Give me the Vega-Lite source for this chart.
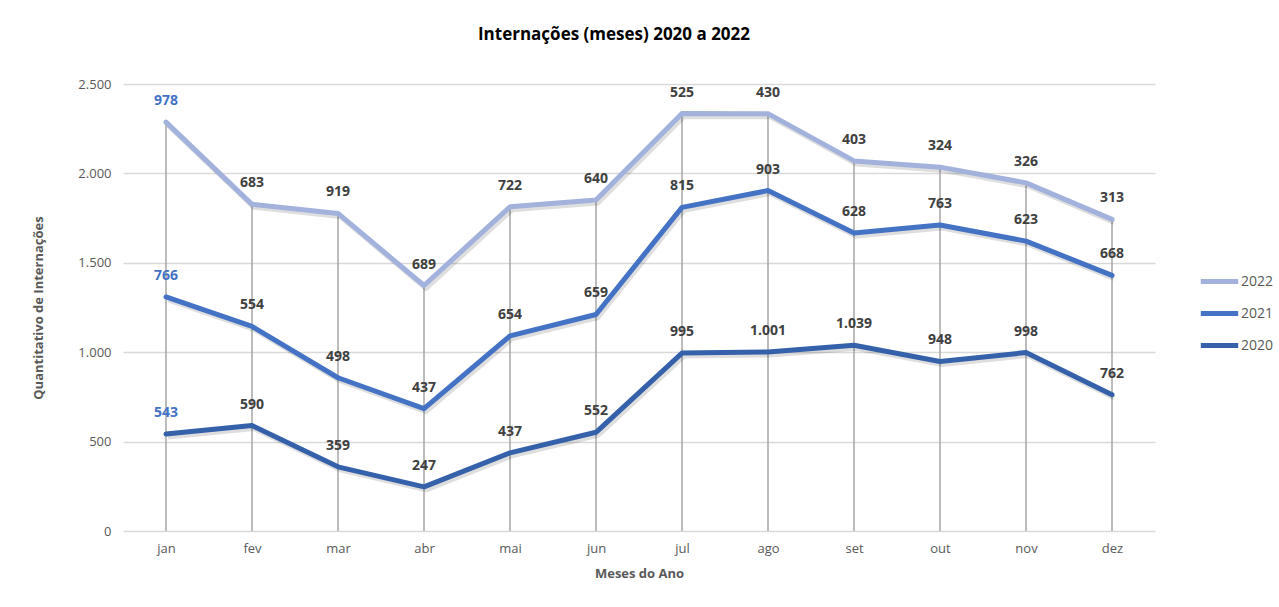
{
  "$schema": "https://vega.github.io/schema/vega-lite/v6.json",
  "width": 1032,
  "height": 447,
  "autosize": {"type": "none"},
  "padding": {"left": 123, "top": 84, "right": 124, "bottom": 76},
  "background": "white",
  "config": {
    "locale": {"number": {"decimal": ",", "thousands": ".", "grouping": [3], "currency": ["R$", ""]}},
    "view": {"stroke": null},
    "font": "Liberation Sans"
  },
  "title": {
    "text": "Internações (meses) 2020 a 2022",
    "font": "Open Sans",
    "fontSize": 17,
    "fontWeight": "bold",
    "color": "#000000",
    "anchor": "middle",
    "dx": -25,
    "offset": 34
  },
  "data": {
    "values": [
      {"month": "jan", "year": "2020", "value": 543},
      {"month": "fev", "year": "2020", "value": 590},
      {"month": "mar", "year": "2020", "value": 359},
      {"month": "abr", "year": "2020", "value": 247},
      {"month": "mai", "year": "2020", "value": 437},
      {"month": "jun", "year": "2020", "value": 552},
      {"month": "jul", "year": "2020", "value": 995},
      {"month": "ago", "year": "2020", "value": 1001},
      {"month": "set", "year": "2020", "value": 1039},
      {"month": "out", "year": "2020", "value": 948},
      {"month": "nov", "year": "2020", "value": 998},
      {"month": "dez", "year": "2020", "value": 762},
      {"month": "jan", "year": "2021", "value": 766},
      {"month": "fev", "year": "2021", "value": 554},
      {"month": "mar", "year": "2021", "value": 498},
      {"month": "abr", "year": "2021", "value": 437},
      {"month": "mai", "year": "2021", "value": 654},
      {"month": "jun", "year": "2021", "value": 659},
      {"month": "jul", "year": "2021", "value": 815},
      {"month": "ago", "year": "2021", "value": 903},
      {"month": "set", "year": "2021", "value": 628},
      {"month": "out", "year": "2021", "value": 763},
      {"month": "nov", "year": "2021", "value": 623},
      {"month": "dez", "year": "2021", "value": 668},
      {"month": "jan", "year": "2022", "value": 978},
      {"month": "fev", "year": "2022", "value": 683},
      {"month": "mar", "year": "2022", "value": 919},
      {"month": "abr", "year": "2022", "value": 689},
      {"month": "mai", "year": "2022", "value": 722},
      {"month": "jun", "year": "2022", "value": 640},
      {"month": "jul", "year": "2022", "value": 525},
      {"month": "ago", "year": "2022", "value": 430},
      {"month": "set", "year": "2022", "value": 403},
      {"month": "out", "year": "2022", "value": 324},
      {"month": "nov", "year": "2022", "value": 326},
      {"month": "dez", "year": "2022", "value": 313}
    ]
  },
  "transform": [
    {"stack": "value", "groupby": ["month"], "sort": [{"field": "year", "order": "ascending"}], "as": ["y0", "y1"]}
  ],
  "encoding": {
    "x": {
      "field": "month",
      "type": "nominal",
      "sort": ["jan", "fev", "mar", "abr", "mai", "jun", "jul", "ago", "set", "out", "nov", "dez"],
      "scale": {"type": "point", "padding": 0.5},
      "axis": {
        "title": "Meses do Ano",
        "titleFont": "Open Sans",
        "titleFontSize": 13,
        "titleFontWeight": "bold",
        "titleColor": "#595959",
        "titlePadding": 12,
        "labelAngle": 0,
        "labelFont": "Open Sans",
        "labelFontSize": 13,
        "labelColor": "#595959",
        "labelPadding": 11,
        "ticks": false,
        "domain": false,
        "grid": false
      }
    },
    "y": {"field": "y1", "type": "quantitative", "scale": {"domain": [0, 2500], "nice": false, "zero": true},
      "axis": {
        "title": "Quantitativo de Internações",
        "titleFont": "Open Sans",
        "titleFontSize": 13,
        "titleFontWeight": "bold",
        "titleColor": "#595959",
        "titlePadding": 32,
        "format": ",d",
        "values": [0, 500, 1000, 1500, 2000, 2500],
        "labelFont": "Open Sans",
        "labelFontSize": 13,
        "labelColor": "#595959",
        "labelPadding": 12,
        "ticks": false,
        "domain": false,
        "grid": true,
        "gridColor": "#D9D9D9",
        "gridWidth": 1.5
      }
    }
  },
  "layer": [
    {
      "mark": {"type": "rule", "color": "#A6A6A6", "strokeWidth": 1.5},
      "transform": [{"filter": "datum.year === '2022'"}],
      "encoding": {
        "y2": {"datum": 0}
      }
    },
    {
      "mark": {"type": "line", "strokeWidth": 5, "color": "#000000", "opacity": 0.13, "xOffset": 2, "yOffset": 3, "strokeJoin": "round"},
      "encoding": {
        "detail": {"field": "year"}
      }
    },
    {
      "mark": {"type": "line", "strokeWidth": 5, "strokeJoin": "round", "strokeCap": "round"},
      "encoding": {
        "color": {
          "field": "year",
          "type": "nominal",
          "scale": {"domain": ["2022", "2021", "2020"], "range": ["#A3B2DD", "#4472C4", "#3560AA"]},
          "legend": {
            "title": null,
            "orient": "none",
            "legendX": 1075,
            "legendY": 176,
            "symbolType": "stroke",
            "symbolStrokeWidth": 5,
            "symbolSize": 1400,
            "rowPadding": -9,
            "labelFont": "Open Sans",
            "labelFontSize": 14,
            "labelColor": "#595959",
            "labelOffset": 0
          }
        }
      }
    },
    {
      "mark": {"type": "text", "dy": -21, "font": "Open Sans", "fontSize": 14, "fontWeight": "bold", "baseline": "middle"},
      "encoding": {
        "text": {"field": "value", "type": "quantitative", "format": ",d"},
        "color": {"condition": {"test": "datum.month === 'jan'", "value": "#4472C4"}, "value": "#404040"}
      }
    }
  ]
}
